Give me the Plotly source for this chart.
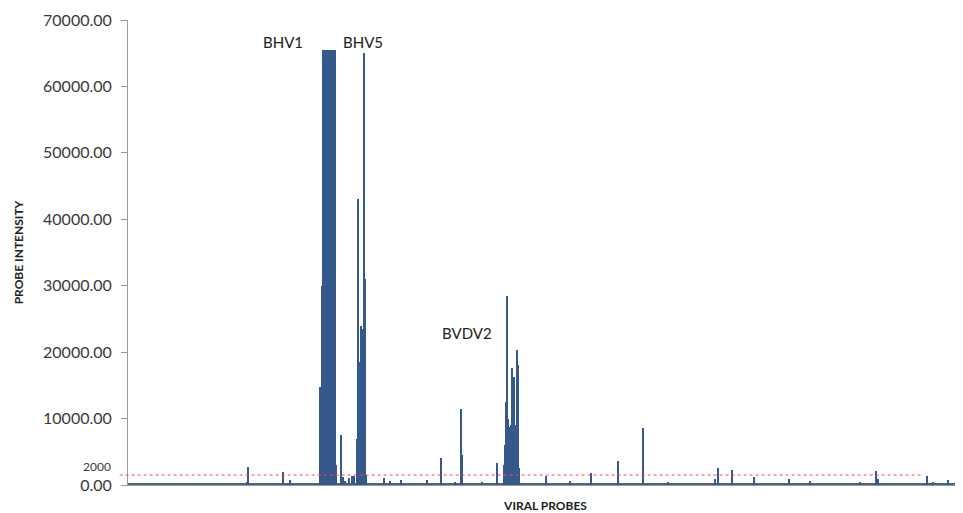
import plotly.graph_objects as go

# ---- data (probe index along the array, intensity) ----
spike_probes = [119, 120, 155, 162,
                192, 193, 194, 195, 196, 197, 198, 199, 200, 201, 202, 203, 204, 205, 206, 207, 208,
                213, 215, 217, 221, 224, 226,
                229, 230, 231, 232, 233, 234, 235, 236, 237, 238,
                256, 262, 273, 299, 313, 327, 333, 334, 354, 369,
                376, 377, 378, 379, 380, 381, 382, 383, 384, 385, 386, 387, 388, 389, 390, 391,
                418, 442, 463, 490, 515, 540, 587, 590, 604, 626, 661, 682, 732, 748, 750,
                799, 805, 820, 832]
spike_values = [500, 2700, 1900, 700,
                14700, 11500, 30000, 65500, 65500, 65500, 65400, 65500, 65500, 65500, 65500, 65300, 65500, 65500, 65500, 65500, 3000,
                7600, 1200, 600, 1000, 1300, 1400,
                7000, 43000, 8000, 18500, 24000, 23500, 2700, 65000, 31000, 1500,
                1000, 600, 700, 800, 4000, 500, 11400, 4500, 500, 3300,
                3000, 6000, 12500, 28500, 10000, 8700, 6500, 9000, 17600, 7500, 16200, 9000, 6500, 20300, 18000, 2500,
                1350, 600, 1800, 3650, 8550, 400, 900, 2550, 2250, 1200, 900, 600, 500, 2100, 900,
                1350, 500, 700, 2200]

baseline_values = [280, 260, 300, 270, 290, 270, 300, 290, 280, 310, 300, 290, 320, 340,
                   330, 300, 290, 310, 290, 340, 320, 300, 310, 280, 310, 300, 290, 300,
                   300, 310, 290, 280, 300, 310, 290, 310, 300, 280, 310, 300, 290, 300]
baseline_block = 20

y_ticks = [0, 10000, 20000, 30000, 40000, 50000, 60000, 70000]
cutoff_value = 1500
cutoff_label = "2000"
virus_labels = ["BHV1", "BHV5", "BVDV2"]
virus_label_x = [155, 235, 339]
virus_label_y = [65000, 65000, 21200]

n_probes = 835
bar_color = "#34598a"
text_color = "#3a3a3a"
font_family = "Lato, 'Open Sans', sans-serif"

fig = go.Figure()
fig.add_trace(go.Bar(
    x=[i * baseline_block + baseline_block / 2 for i in range(len(baseline_values))],
    y=baseline_values, width=baseline_block,
    marker=dict(color="#4a6488", line=dict(width=0)), showlegend=False, hoverinfo="skip"))
fig.add_trace(go.Bar(
    x=spike_probes, y=spike_values, width=1.0,
    marker=dict(color=bar_color, line=dict(width=0)), showlegend=False))

# cutoff line
fig.add_shape(type="line", xref="paper", yref="y",
              x0=-0.01, x1=(922 - 128) / 835, y0=cutoff_value, y1=cutoff_value,
              line=dict(color="#ff4d4d", width=1, dash="dot"))
fig.add_annotation(xref="paper", yref="y", x=-0.018, y=cutoff_value + 1300,
                   text=cutoff_label, showarrow=False, xanchor="right", yanchor="middle",
                   font=dict(size=12, color=text_color, family=font_family))

for t, xv, yv in zip(virus_labels, virus_label_x, virus_label_y):
    fig.add_annotation(x=xv, y=yv, text=t, showarrow=False, xanchor="center",
                       yanchor="bottom",
                       font=dict(size=15, color="#222222", family=font_family))

# the page body adds an 8px margin, so the figure is sized to sit inside the window
fig.update_layout(
    width=955, height=505,
    margin=dict(l=120, r=0, t=12, b=28),
    paper_bgcolor="white", plot_bgcolor="white",
    barmode="overlay", bargap=0,
    font=dict(family=font_family, color=text_color),
    xaxis=dict(range=[0, n_probes], showgrid=False, zeroline=False, automargin=False,
               showline=True, linecolor="#9a9a9a", linewidth=1,
               showticklabels=False, ticks="",
               title=dict(text="<b>VIRAL PROBES</b>", standoff=16,
                          font=dict(size=12, color="#222222", family=font_family))),
    yaxis=dict(range=[0, 70000], tickvals=y_ticks, tickformat=".2f",
               showgrid=False, zeroline=False, automargin=False,
               showline=True, linecolor="#9a9a9a", linewidth=1,
               ticks="outside", ticklen=6, tickcolor="#9a9a9a",
               ticklabelstandoff=6,
               tickfont=dict(size=16, color=text_color, family=font_family),
               title=dict(text="<b>PROBE INTENSITY</b>", standoff=16,
                          font=dict(size=12, color="#222222", family=font_family))),
)

fig.write_html("out.html")
